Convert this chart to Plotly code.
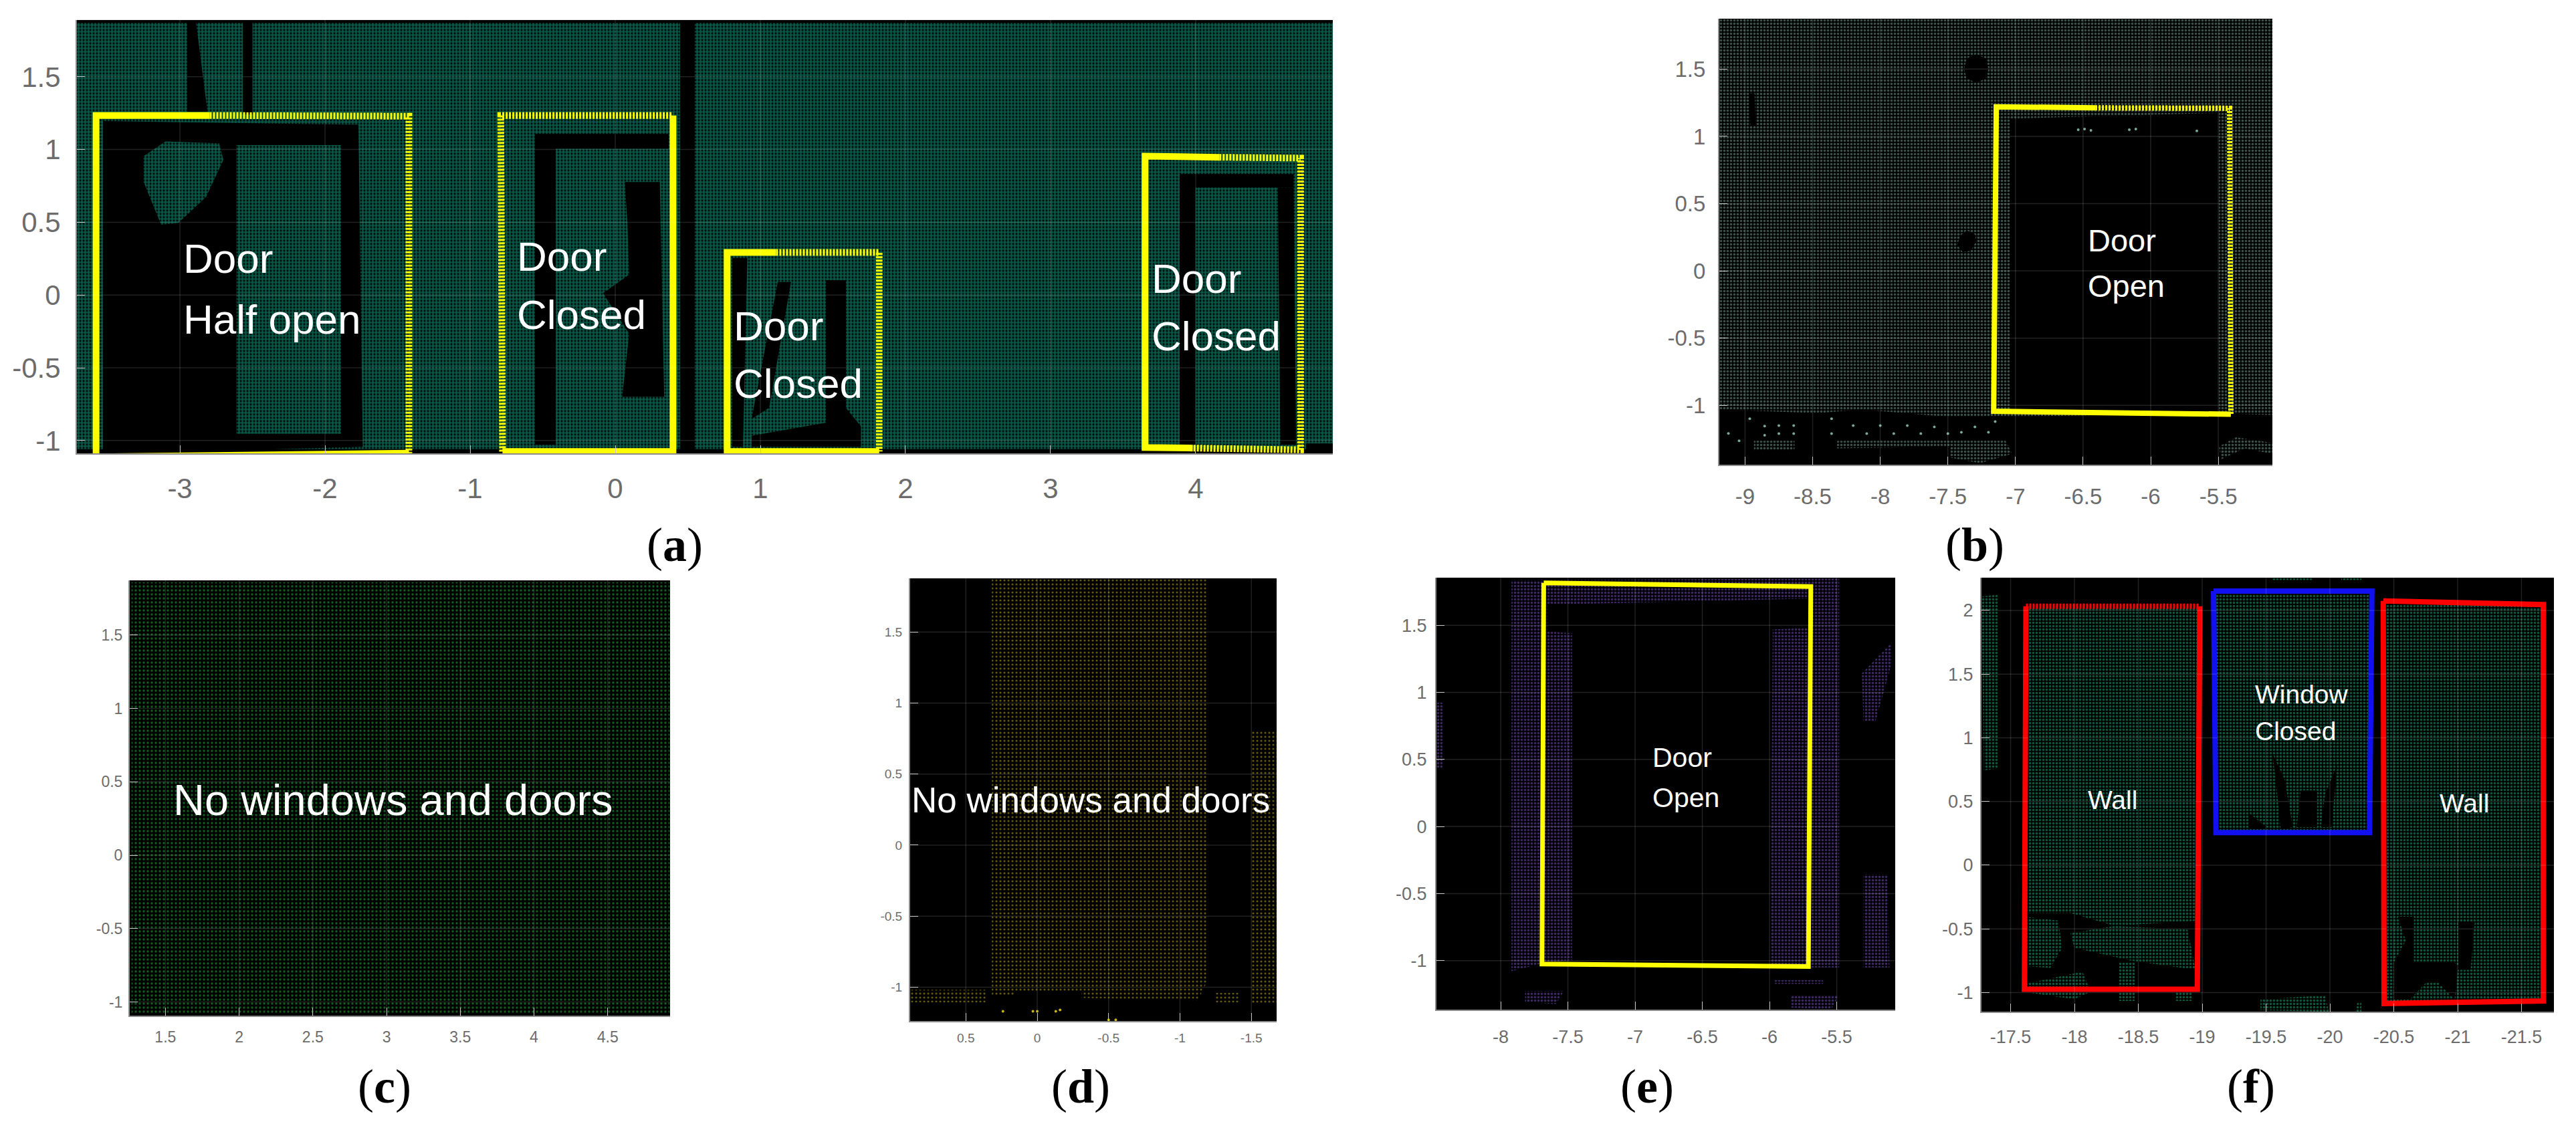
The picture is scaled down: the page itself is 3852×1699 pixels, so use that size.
import plotly.graph_objects as go

W, H = 3852, 1699

# ---------- panel (a) ----------
a_xticks = [-3, -2, -1, 0, 1, 2, 3, 4]
a_yticks = [-1, -0.5, 0, 0.5, 1, 1.5]
a_xrange = [-3.71, 4.945]
a_yrange = [-1.09, 1.89]
a_wall = [(-3.71, 1.87), (4.945, 1.87), (4.945, -1.06), (-3.71, -1.06)]
a_holes = [
    [(-3.53, 1.196), (-1.77, 1.17), (-1.74, -1.043), (-3.53, -1.094)],
    [(-2.95, 1.88), (-2.89, 1.88), (-2.81, 1.26), (-2.95, 1.26)],
    [(-2.567, 1.88), (-2.50, 1.88), (-2.50, 1.24), (-2.567, 1.24)],
    [(0.447, 1.89), (0.548, 1.89), (0.548, -1.09), (0.447, -1.09)],
    [(-0.554, 1.107), (0.367, 1.107), (0.367, 1.005), (-0.41, 1.005), (-0.41, -1.03), (-0.554, -1.03)],
    [(0.066, 0.776), (0.307, 0.776), (0.337, -0.70), (0.048, -0.70), (0.096, -0.267), (-0.084, 0.013), (0.096, 0.14), (0.084, 0.496)],
    [(0.807, 0.254), (0.91, 0.254), (0.88, -1.043), (0.807, -1.043)],
    [(1.452, 0.102), (1.59, 0.102), (1.59, -0.776), (1.693, -0.903), (1.693, -1.043), (0.94, -1.043), (0.94, -0.967), (1.452, -0.878)],
    [(1.12, 0.089), (1.211, 0.089), (1.06, -0.776), (0.94, -0.852)],
    [(3.89, 0.832), (4.675, 0.832), (4.675, 0.738), (4.0, 0.738), (4.0, -1.03), (3.89, -1.03)],
    [(4.566, 0.738), (4.675, 0.738), (4.693, -1.03), (4.584, -1.03)],
    [(4.76, -1.02), (4.945, -1.02), (4.945, -1.09), (4.76, -1.09)],
]
a_patches = [
    [(-3.10, 1.056), (-2.73, 1.043), (-2.70, 0.929), (-2.82, 0.674), (-3.01, 0.496), (-3.13, 0.483), (-3.25, 0.776), (-3.25, 0.954)],
    [(-2.61, 1.03), (-1.89, 1.03), (-1.89, -0.954), (-2.61, -0.954)],
]
a_solid = [
    [(-2.795, 1.234), (-3.578, 1.234), (-3.578, -1.112), (-1.422, -1.087)],
    [(0.398, 1.234), (0.398, -1.076), (-0.777, -1.076)],
    [(1.108, 0.293), (0.771, 0.293), (0.771, -1.076), (1.819, -1.076)],
    [(4.163, 0.947), (3.651, 0.954), (3.651, -1.048), (3.98, -1.052)],
]
a_dotted = [
    [(-2.795, 1.234), (-1.422, 1.229), (-1.422, -1.087)],
    [(-0.777, -1.076), (-0.789, 1.234), (0.398, 1.234)],
    [(1.108, 0.293), (1.819, 0.293), (1.819, -1.076)],
    [(4.163, 0.947), (4.723, 0.941), (4.723, -1.064), (3.98, -1.052)],
]
a_labels = [
    ("Door", -2.986, 0.252), ("Half open", -2.986, -0.165),
    ("Door", -0.687, 0.266), ("Closed", -0.687, -0.133),
    ("Door", 0.807, -0.211), ("Closed", 0.807, -0.61),
    ("Door", 3.687, 0.115), ("Closed", 3.687, -0.28),
]

# ---------- panel (b) ----------
b_xticks = [-9, -8.5, -8, -7.5, -7, -6.5, -6, -5.5]
b_yticks = [-1, -0.5, 0, 0.5, 1, 1.5]
b_xrange = [-9.19, -5.10]
b_yrange = [-1.443, 1.875]
b_wall = [(-9.19, 1.875), (-5.10, 1.875), (-5.10, -1.072), (-5.495, -1.058), (-7.041, -1.085), (-7.514, -1.085), (-8.145, -1.03), (-8.461, -1.058), (-9.19, -1.03)]
b_holes = [
    [(-7.041, 1.132), (-5.495, 1.174), (-5.495, -1.06), (-7.041, -1.06)],
    [(-7.29, 1.61), (-7.22, 1.58), (-7.20, 1.50), (-7.22, 1.43), (-7.29, 1.40), (-7.36, 1.43), (-7.38, 1.50), (-7.36, 1.58)],
    [(-7.36, 0.30), (-7.30, 0.27), (-7.29, 0.22), (-7.33, 0.15), (-7.39, 0.14), (-7.43, 0.19), (-7.41, 0.26)],
    [(-8.97, 1.32), (-8.93, 1.32), (-8.92, 1.08), (-8.96, 1.08)],
]
b_patches = [
    [(-8.934, -1.264), (-8.634, -1.264), (-8.634, -1.333), (-8.934, -1.333)],
    [(-8.319, -1.264), (-7.073, -1.264), (-7.025, -1.361), (-7.262, -1.43), (-7.483, -1.388), (-7.483, -1.306), (-8.319, -1.32)],
    [(-5.495, -1.306), (-5.369, -1.237), (-5.101, -1.278), (-5.101, -1.361), (-5.306, -1.32), (-5.479, -1.402)],
]
b_strays = [
    (-6.536, 1.05), (-6.489, 1.055), (-6.442, 1.044), (-6.158, 1.05), (-6.11, 1.055), (-5.659, 1.041),
    (-9.123, -1.209), (-9.044, -1.264), (-8.965, -1.099), (-8.855, -1.154), (-8.855, -1.223),
    (-8.75, -1.15), (-8.75, -1.21), (-8.64, -1.15), (-8.64, -1.21), (-8.36, -1.10), (-8.36, -1.21),
    (-8.2, -1.15), (-8.1, -1.21), (-8.0, -1.15), (-7.9, -1.21), (-7.8, -1.15), (-7.7, -1.21),
    (-7.6, -1.16), (-7.5, -1.21), (-7.4, -1.20), (-7.3, -1.16), (-7.2, -1.20), (-7.15, -1.12),
]
b_solid = [
    [(-6.41, 1.212), (-7.142, 1.22), (-7.161, -1.044), (-5.407, -1.066)],
]
b_dotted = [
    [(-6.41, 1.212), (-5.416, 1.209), (-5.407, -1.066)],
]
b_labels = [("Door", -6.473, 0.229), ("Open", -6.473, -0.113)]

# ---------- panel (c) ----------
c_xticks = [1.5, 2, 2.5, 3, 3.5, 4, 4.5]
c_yticks = [-1, -0.5, 0, 0.5, 1, 1.5]
c_xrange = [1.258, 4.923]
c_yrange = [-1.095, 1.873]
c_wall = [(1.27, 1.86), (4.92, 1.86), (4.92, -1.08), (1.27, -1.08)]
c_labels = [("No windows and doors", 1.544, 0.377)]

# ---------- panel (d) ----------
d_xticks = [0.5, 0, -0.5, -1, -1.5]
d_yticks = [-1, -0.5, 0, 0.5, 1, 1.5]
d_xrange = [0.89, -1.677]
d_yrange = [-1.24, 1.878]
d_wall = [(0.318, 1.878), (-1.195, 1.878), (-1.195, -0.95), (-1.124, -1.095), (0.318, -1.06)]
d_holes = [[(0.159, -1.03), (-0.309, -1.03), (-0.309, -1.12), (0.159, -1.12)]]
d_patches = [
    [(-1.503, 0.80), (-1.677, 0.80), (-1.677, -1.12), (-1.503, -1.12)],
    [(0.89, -1.018), (0.36, -1.018), (0.36, -1.108), (0.89, -1.108)],
    [(-1.25, -1.04), (-1.415, -1.04), (-1.415, -1.108), (-1.25, -1.108)],
]
d_strays = [(0.24, -1.17), (0.03, -1.17), (0.0, -1.17), (-0.13, -1.17), (-0.16, -1.16), (-0.5, -1.23), (-0.55, -1.23)]
d_labels = [("No windows and doors", 0.89, 0.319)]

# ---------- panel (e) ----------
e_xticks = [-8, -7.5, -7, -6.5, -6, -5.5]
e_yticks = [-1, -0.5, 0, 0.5, 1, 1.5]
e_xrange = [-8.478, -5.065]
e_yrange = [-1.368, 1.856]
e_wall = [
    (-7.92, 1.837), (-5.482, 1.85), (-5.482, -1.052), (-5.994, -1.052), (-5.976, 1.469), (-5.693, 1.482),
    (-5.693, 1.70), (-7.47, 1.659), (-7.65, 1.659), (-7.65, 1.455), (-7.47, 1.441), (-7.47, -0.997),
    (-7.65, -1.011), (-7.92, -1.079),
]
e_patches = [
    [(-5.313, 1.142), (-5.09, 1.373), (-5.09, 1.223), (-5.211, 0.787), (-5.301, 0.787)],
    [(-5.301, -0.357), (-5.12, -0.357), (-5.108, -1.052), (-5.301, -1.052)],
    [(-8.482, 0.924), (-8.434, 0.924), (-8.434, 0.433), (-8.482, 0.433)],
    [(-7.819, -1.229), (-7.53, -1.229), (-7.59, -1.324), (-7.819, -1.311)],
    [(-5.843, -1.256), (-5.482, -1.256), (-5.542, -1.365), (-5.843, -1.351)],
    [(-5.964, -1.147), (-5.602, -1.147), (-5.602, -1.174), (-5.964, -1.174)],
]
e_solid = [[(-7.68, 1.817), (-5.693, 1.79), (-5.711, -1.044), (-7.693, -1.025), (-7.68, 1.817)]]
e_labels = [("Door", -6.88, 0.515), ("Open", -6.88, 0.215)]

# ---------- panel (f) ----------
f_xticks = [-17.5, -18, -18.5, -19, -19.5, -20, -20.5, -21, -21.5]
f_yticks = [-1, -0.5, 0, 0.5, 1, 1.5, 2]
f_xrange = [-17.272, -21.754]
f_yrange = [-1.152, 2.257]
f_wall = [
    [(-17.608, 2.023), (-18.981, 2.023), (-18.981, -0.434), (-18.316, -0.477), (-17.968, -0.376), (-17.608, -0.376)],
    [(-19.089, 2.152), (-20.329, 2.152), (-20.329, 0.27), (-19.108, 0.27)],
    [(-20.437, 2.066), (-21.671, 2.037), (-21.671, -1.066), (-20.437, -1.08)],
]
f_holes = [
    [(-19.551, 0.874), (-19.646, 0.672), (-19.709, 0.299), (-19.614, 0.284), (-19.582, 0.615)],
    [(-19.772, 0.586), (-19.899, 0.586), (-19.899, 0.299), (-19.741, 0.299)],
    [(-19.962, 0.557), (-20.057, 0.787), (-20.013, 0.299), (-19.93, 0.299)],
    [(-19.361, 0.414), (-19.519, 0.284), (-19.361, 0.284)],
    [(-20.532, -0.405), (-20.658, -0.405), (-20.658, -0.764), (-20.975, -0.764), (-21.006, -0.793), (-20.975, -1.052),
     (-20.848, -0.922), (-20.753, -0.922), (-20.627, -1.052), (-20.5, -1.052), (-20.5, -0.764), (-20.595, -0.592)],
    [(-21.006, -0.448), (-21.133, -0.448), (-21.101, -0.822), (-21.006, -0.822)],
]
f_patches = [
    [(-17.62, -0.405), (-17.873, -0.434), (-17.905, -0.649), (-17.81, -0.807), (-17.633, -0.793)],
    [(-17.968, -0.534), (-18.316, -0.477), (-18.886, -0.506), (-18.949, -0.822), (-18.443, -0.75), (-18.0, -0.649)],
    [(-17.589, -0.937), (-18.063, -0.836), (-18.127, -0.994), (-18.0, -1.052), (-17.589, -0.994)],
    [(-18.348, -0.764), (-18.475, -0.764), (-18.475, -1.066), (-18.348, -1.066)],
    [(-18.791, -0.994), (-18.918, -0.98), (-18.918, -1.066), (-18.791, -1.066)],
    [(-17.272, 2.109), (-17.399, 2.124), (-17.399, 0.759), (-17.291, 0.744)],
    [(-19.551, 2.257), (-19.867, 2.257), (-19.867, 2.239), (-19.551, 2.239)],
    [(-20.089, 2.257), (-20.247, 2.257), (-20.247, 2.239), (-20.089, 2.239)],
    [(-19.456, -1.052), (-19.962, -1.023), (-19.994, -1.152), (-19.456, -1.138)],
    [(-20.215, -1.08), (-20.247, -1.08), (-20.247, -1.152), (-20.196, -1.152)],
]
f_solid_red = [
    [(-17.62, 2.032), (-17.608, -0.974), (-18.962, -0.974), (-18.981, 2.032)],
    [(-20.418, 2.075), (-21.671, 2.046), (-21.671, -1.066), (-20.424, -1.086), (-20.418, 2.075)],
]
f_dotted_red = [[(-17.62, 2.032), (-18.981, 2.032)]]
f_solid_blue = [[(-19.089, 2.152), (-20.329, 2.152), (-20.31, 0.256), (-19.108, 0.256), (-19.089, 2.152)]]
f_labels = [
    ("Wall", -18.095, 0.514), ("Wall", -20.848, 0.486),
    ("Window", -19.405, 1.339), ("Closed", -19.405, 1.052),
]

tags = ["a", "b", "c", "d", "e", "f"]

# pixel frames and look of each panel: left, right, top, bottom
panels = [
    dict(box=(115, 1993, 30, 680), xt=a_xticks, yt=a_yticks, xr=a_xrange, yr=a_yrange, font=42, label=62,
         dots=("#10ac8c", 5, 0.72), off_x=14, off_y=14, wall=[a_wall], holes=a_holes, patches=a_patches, strays=[],
         lines=[(a_solid, "#ffff00", 10, None), (a_dotted, "#ffff00", 10, "3px,2px")], labels=a_labels, tag=(1009, 817)),
    dict(box=(2571, 3398, 28, 697), xt=b_xticks, yt=b_yticks, xr=b_xrange, yr=b_yrange, font=33, label=47,
         dots=("#7aa898", 5, 0.4), off_x=17, off_y=12, wall=[b_wall], holes=b_holes, patches=b_patches, strays=b_strays,
         lines=[(b_solid, "#ffff00", 8, None), (b_dotted, "#ffff00", 8, "3px,2px")], labels=b_labels, tag=(2953, 817)),
    dict(box=(194, 1002, 870, 1523), xt=c_xticks, yt=c_yticks, xr=c_xrange, yr=c_yrange, font=23, label=65,
         dots=("#22c040", 6, 0.26), off_x=10, off_y=4, wall=[c_wall], holes=[], patches=[], strays=[],
         lines=[], labels=c_labels, tag=(575, 1629)),
    dict(box=(1361, 1909, 867, 1531), xt=d_xticks, yt=d_yticks, xr=d_xrange, yr=d_yrange, font=19, label=53,
         dots=("#c8b412", 6, 0.22), off_x=7, off_y=6, wall=[d_wall], holes=d_holes, patches=d_patches, strays=d_strays,
         lines=[], labels=d_labels, tag=(1616, 1629)),
    dict(box=(2148, 2834, 866, 1514), xt=e_xticks, yt=e_yticks, xr=e_xrange, yr=e_yrange, font=27, label=41,
         dots=("#7a50c8", 5, 0.4), off_x=15, off_y=7, wall=[e_wall], holes=[], patches=e_patches, strays=[],
         lines=[(e_solid, "#ffff00", 7, None)], labels=e_labels, tag=(2463, 1629)),
    dict(box=(2963, 3819, 866, 1517), xt=f_xticks, yt=f_yticks, xr=f_xrange, yr=f_yrange, font=27, label=39,
         dots=("#18b080", 5, 0.4), off_x=12, off_y=5, wall=f_wall, holes=f_holes, patches=f_patches, strays=[],
         lines=[(f_solid_red, "#ff0000", 8, None), (f_dotted_red, "#ff0000", 8, "3px,2px"), (f_solid_blue, "#1010f0", 8, None)],
         labels=f_labels, tag=(3366, 1629)),
]

fig = go.Figure()
layout = {}
shapes = []
notes = []


def add_poly(pts, xa, ya, dots=None):
    style = dict(fillcolor="#000000")
    if dots:
        style["fillpattern"] = dict(shape=".", fgcolor=dots[0], bgcolor="#000000", size=dots[1], solidity=dots[2])
    fig.add_trace(go.Scatter(x=[p[0] for p in pts], y=[p[1] for p in pts], mode="none", fill="toself",
                             hoverinfo="skip", xaxis=xa, yaxis=ya, **style))


for i, p in enumerate(panels):
    n = "" if i == 0 else str(i + 1)
    xa, ya = "x" + n, "y" + n
    left, right, top, bottom = p["box"]
    tickfont = dict(family="Liberation Sans", size=p["font"], color="#6c6c6c")
    axis = dict(showgrid=False, zeroline=False, ticks="inside", ticklen=12, tickwidth=1, tickcolor="#bdbdbd",
                showline=True, linecolor="#8c8c8c", linewidth=2, tickfont=tickfont)
    layout["xaxis" + n] = dict(axis, domain=[left / W, right / W], range=p["xr"], anchor=ya, tickvals=p["xt"],
                               ticktext=[str(t) for t in p["xt"]], ticklabelstandoff=p["off_x"])
    layout["yaxis" + n] = dict(axis, domain=[1 - bottom / H, 1 - top / H], range=p["yr"], anchor=xa, tickvals=p["yt"],
                               ticktext=[str(t) for t in p["yt"]], ticklabelstandoff=p["off_y"])

    # black panel behind the cloud
    shapes.append(dict(type="rect", xref=xa + " domain", yref=ya + " domain", x0=0, x1=1, y0=0, y1=1,
                       fillcolor="#000000", line_width=0, layer="below"))

    for poly in p["wall"]:
        add_poly(poly, xa, ya, p["dots"])
    for poly in p["holes"]:
        add_poly(poly, xa, ya)
    for poly in p["patches"]:
        add_poly(poly, xa, ya, p["dots"])

    if p["strays"]:
        fig.add_trace(go.Scatter(x=[s[0] for s in p["strays"]], y=[s[1] for s in p["strays"]], mode="markers",
                                 marker=dict(size=4, color=p["dots"][0]), hoverinfo="skip", xaxis=xa, yaxis=ya))

    # gridlines sit over the black holes
    for t in p["xt"]:
        shapes.append(dict(type="line", xref=xa, yref=ya + " domain", x0=t, x1=t, y0=0, y1=1,
                           line=dict(color="rgba(255,255,255,0.13)", width=1.5), layer="above"))
    for t in p["yt"]:
        shapes.append(dict(type="line", xref=xa + " domain", yref=ya, x0=0, x1=1, y0=t, y1=t,
                           line=dict(color="rgba(255,255,255,0.13)", width=1.5), layer="above"))

    for segs, color, width, dash in p["lines"]:
        for seg in segs:
            fig.add_trace(go.Scatter(x=[s[0] for s in seg], y=[s[1] for s in seg], mode="lines", cliponaxis=False,
                                     line=dict(color=color, width=width, dash=dash or "solid"), hoverinfo="skip",
                                     xaxis=xa, yaxis=ya))

    for text, lx, ly in p["labels"]:
        notes.append(dict(text=text, x=lx, y=ly, xref=xa, yref=ya, xanchor="left", yanchor="middle", showarrow=False,
                          font=dict(family="Liberation Sans", size=p["label"], color="#ffffff")))

    notes.append(dict(text="(<b>" + tags[i] + "</b>)", x=p["tag"][0] / W, y=1 - p["tag"][1] / H, xref="paper", yref="paper",
                      xanchor="center", yanchor="middle", showarrow=False,
                      font=dict(family="Liberation Serif", size=72, color="#000000")))

fig.update_layout(width=W, height=H, margin=dict(l=0, r=0, t=0, b=0), paper_bgcolor="#ffffff", plot_bgcolor="#000000",
                  showlegend=False, shapes=shapes, annotations=notes, **layout)
fig.write_html("out.html", config={"displayModeBar": False}, post_script="document.body.style.margin='0';")
